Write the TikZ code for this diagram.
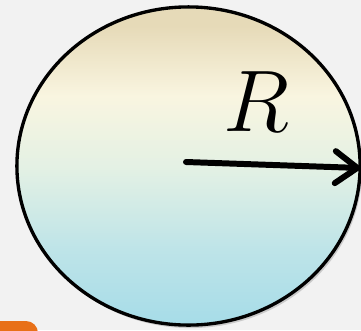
\documentclass[tikz,border=0pt]{standalone}
\usepackage{tikz}
\usetikzlibrary{shapes.geometric,arrows.meta,shadows,positioning,calc}
\definecolor{bggray}{RGB}{242,242,242}
\definecolor{balltan}{RGB}{230,218,184}
\definecolor{ballcream}{RGB}{249,245,224}
\definecolor{ballmint}{RGB}{228,241,228}
\definecolor{ballaqua}{RGB}{190,228,232}
\definecolor{ballblue}{RGB}{166,220,232}
\definecolor{btnorange}{RGB}{232,112,24}
\pgfdeclareverticalshading{ballshade}{100bp}{color(0bp)=(ballblue); color(25bp)=(ballblue);
  color(37bp)=(ballaqua); color(50bp)=(ballmint); color(61bp)=(ballcream);
  color(72bp)=(balltan); color(75bp)=(balltan); color(100bp)=(balltan)}

\begin{document}
\begin{tikzpicture}[x=0.01cm,y=-0.01cm,
  ball/.style={ellipse,draw=black,line width=0.95pt,shading=ballshade,
               minimum width=3.43cm,minimum height=3.18cm,inner sep=0pt,
               drop shadow={shadow xshift=0.02cm,shadow yshift=-0.03cm,opacity=0.35}},
  radarrow/.style={line width=1.7pt,line cap=round,
               -{Straight Barb[length=0.22cm,width=0.32cm,line cap=round,line join=round]}},
  lbl/.style={font=\fontsize{25.5}{28}\selectfont,inner sep=0pt}]
  % fond
  \clip (0,0) rectangle (361,330);
  \fill[bggray] (0,0) rectangle (361,330);
  % bouton orange (coupe)
  \fill[btnorange,rounded corners=0.12cm] (-30,321) rectangle (38,380);
  % sphere
  \node[ball] (ball) at (188.5,166) {};
  % rayon
  \draw[radarrow] ($(ball.center)+(-2.5,-4)$) -- ($(ball.east)+(-1.5,2)$);
  \node[lbl] (rlabel) at (256,102) {$R$};
\end{tikzpicture}
\end{document}
